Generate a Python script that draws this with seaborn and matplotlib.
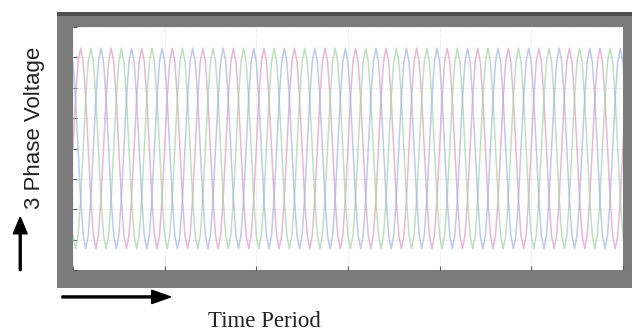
import numpy as np
import pandas as pd
import matplotlib.pyplot as plt
import seaborn as sns
from matplotlib.patches import Rectangle, FancyArrow

# ---------- data ----------
# one cycle of phase A read off the trace (12 samples, volts)
cycle_shape = [0, 165, 286, 330, 286, 165, 0, -165, -286, -330, -286, -165]
phase_names = ["Va", "Vb", "Vc"]
phase_shift = [0, 4, 8]            # samples of lag (120 deg each)
n_cycles = 18
period = 1 / 60
x_ticks = [0, 0.05, 0.10, 0.15, 0.20, 0.25, 0.30]
y_ticks = [-400, -300, -200, -100, 0, 100, 200, 300, 400]

colors = ["#dc9cc0", "#a3d4a6", "#a2b4e0"]

# ---------- build frame ----------
step = period / len(cycle_shape)
wave = np.tile(cycle_shape, n_cycles + 1)
t = np.arange(len(wave)) * step
rows = []
for name, shift in zip(phase_names, phase_shift):
    rows.append(pd.DataFrame({"t": t, "v": np.roll(wave, shift), "phase": name}))
df = pd.concat(rows, ignore_index=True)

sns.set_style("white")
plt.rcParams["font.family"] = ["Liberation Serif", "DejaVu Serif"]

fig = plt.figure(figsize=(6.32, 3.34), dpi=100)
fig.patch.set_facecolor("white")

# scope window frame
fig.patches.append(Rectangle((0.0902, 0.1377), 0.92, 0.826, transform=fig.transFigure,
                             facecolor="#7b7b7b", edgecolor="none", zorder=-2))
fig.patches.append(Rectangle((0.0902, 0.952), 0.92, 0.012, transform=fig.transFigure,
                             facecolor="#4e4e4e", edgecolor="none", zorder=-1))

ax = fig.add_axes([0.1155, 0.1916, 0.870, 0.7275])
ax.set_zorder(2)
ax.set_facecolor("white")
sns.lineplot(data=df, x="t", y="v", hue="phase", palette=colors, linewidth=1.1,
             legend=False, ax=ax, alpha=0.7)

ax.set_xlim(x_ticks[0], x_ticks[-1])
ax.set_ylim(y_ticks[0], y_ticks[-1])
ax.set_xticks(x_ticks)
ax.set_yticks(y_ticks)
ax.set_xticklabels([])
ax.set_yticklabels([])
ax.set_xlabel("")
ax.set_ylabel("")
ax.tick_params(direction="in", length=3, color="#555555", left=True, bottom=True)
ax.grid(True, color="#d8d8d8", linestyle=":", linewidth=0.6)
for s in ax.spines.values():
    s.set_visible(False)

# labels and arrows
fig.text(0.055, 0.617, "3 Phase Voltage", rotation=90, ha="center", va="center",
         fontsize=16, color="#222222", family=["Liberation Sans", "DejaVu Sans"])
fig.text(0.419, 0.036, "Time Period", ha="center", va="center", fontsize=16.5,
         color="#222222")
fig.patches.append(FancyArrow(0.032, 0.19, 0, 0.16, width=0.003, head_width=0.022,
                              head_length=0.05, transform=fig.transFigure,
                              color="black", length_includes_head=True, zorder=5))
fig.patches.append(FancyArrow(0.098, 0.111, 0.172, 0, width=0.006, head_width=0.04,
                              head_length=0.03, transform=fig.transFigure,
                              color="black", length_includes_head=True, zorder=5))

fig.savefig("out.png", dpi=100)
